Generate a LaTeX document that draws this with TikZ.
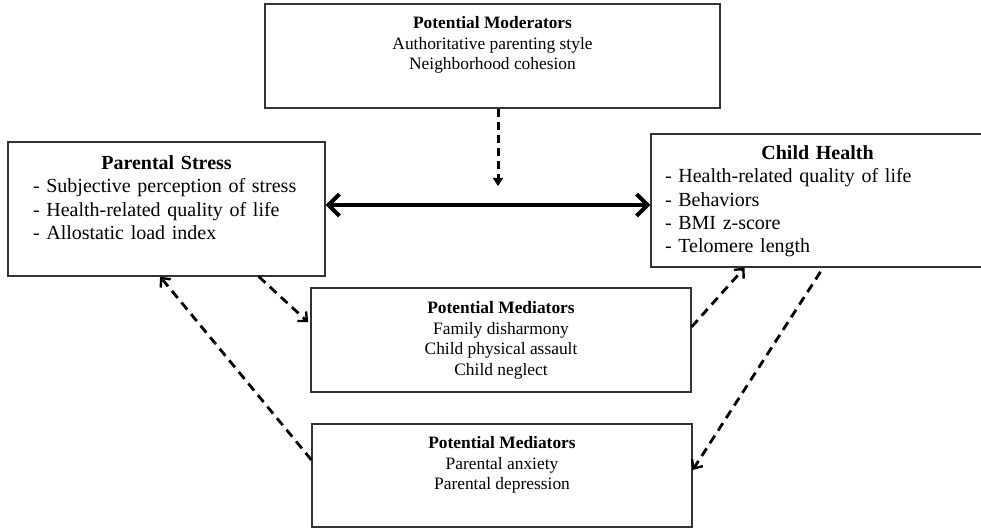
\documentclass[tikz,border=0pt]{standalone}
\usepackage{fontspec}
\setmainfont{Liberation Serif}
\usetikzlibrary{arrows.meta,calc,positioning}
\tikzset{box/.style={rectangle,draw=black!80,line width=1.3pt,fill=none,inner sep=0pt},
         bigtext/.style={align=left,inner sep=0pt,font=\fontsize{20}{23.3}\selectfont},
         smalltext/.style={align=center,inner sep=0pt,font=\fontsize{17.4}{20.5}\selectfont},
         dasharrow/.style={-{Straight Barb[length=7pt,width=13pt,line width=2.4pt]},dash pattern=on 9pt off 6pt,line width=2.8pt},
         dashdown/.style={-{Triangle[length=8pt,width=10pt]},dash pattern=on 8pt off 5pt,line width=3pt},
         twoway/.style={{Straight Barb[length=11pt,width=22pt,line width=4pt]}-{Straight Barb[length=11pt,width=22pt,line width=4pt]},line width=4.5pt}
}
\begin{document}
\begin{tikzpicture}[x=1pt,y=-1pt]
\useasboundingbox (0,0) rectangle (981,529);
% boxes
\node[box,minimum width=455pt,minimum height=104pt] (mod) at (492.5,56) {};
\node[box,minimum width=317pt,minimum height=134pt] (ps) at (166.5,209) {};
\node[box,minimum width=333pt,minimum height=133pt] (ch) at (817.5,200.5) {};
\node[box,minimum width=380pt,minimum height=104pt] (med1) at (501,340) {};
\node[box,minimum width=380pt,minimum height=103pt] (med2) at (502,475.5) {};
% texts
\node[smalltext,below=12.9pt of mod.north] (modtxt) {\textbf{Potential Moderators}\\Authoritative parenting style\\Neighborhood cohesion};
\node[bigtext,text width=267pt,below=14pt of ps.north] (pstxt) {{\centering\textbf{Parental Stress}\par}- Subjective perception of stress\\- Health-related quality of life\\- Allostatic load index};
\node[bigtext,text width=305pt,below=12pt of ch.north] (chtxt) {{\centering\textbf{Child Health}\par}- Health-related quality of life\\- Behaviors\\- BMI z-score\\- Telomere length};
\node[smalltext,below=14pt of med1.north] (med1txt) {\textbf{Potential Mediators}\\Family disharmony\\Child physical assault\\Child neglect};
\node[smalltext,below=12.9pt of med2.north] (med2txt) {\textbf{Potential Mediators}\\Parental anxiety\\Parental depression};
% arrows
\coordinate (modtip) at (498,186);
\coordinate (mid) at (0,205);
\draw[dashdown] (mod.south -| modtip) -- (modtip);
\draw[twoway] (ps.east |- mid) -- (ch.west |- mid);
\draw[dasharrow,shorten >=3pt] ($(ps.south west)!0.79!(ps.south east)$) -- ($(med1.north west)!0.35!(med1.south west)$);
\draw[dasharrow] ($(med2.north west)!0.35!(med2.south west)$) -- ($(ps.south west)!0.48!(ps.south east)$);
\draw[dasharrow] ($(med1.north east)!0.375!(med1.south east)$) -- ($(ch.south west)!0.282!(ch.south east)$);
\draw[dasharrow,shorten <=5pt] ($(ch.south west)!0.517!(ch.south east)$) -- ($(med2.north east)!0.447!(med2.south east)$);
\end{tikzpicture}
\end{document}
